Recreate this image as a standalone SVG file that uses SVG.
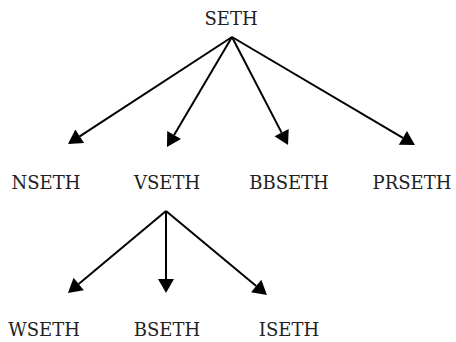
<svg xmlns="http://www.w3.org/2000/svg" width="456" height="342" viewBox="0 0 456 342">
<style>
text{font-family:'DejaVu Serif',serif;font-size:18px;fill:#222;text-anchor:middle}
.e{stroke:#000;stroke-width:2;fill:none;marker-end:url(#ah)}
</style>
<defs>
<marker id="ah" markerUnits="userSpaceOnUse" markerWidth="14" markerHeight="16" refX="0" refY="8" orient="auto" overflow="visible">
<path d="M0,0 L14,8 L0,16 z" fill="#000"/>
</marker>
</defs>
<rect width="456" height="342" fill="#fff"/>
<g id="connectors">
<line class="e" x1="232" y1="37" x2="79.7" y2="136.3"/>
<line class="e" x1="232" y1="37" x2="174.1" y2="135"/>
<line class="e" x1="232" y1="37" x2="281.6" y2="132.6"/>
<line class="e" x1="232" y1="37" x2="402.9" y2="137.9"/>
<line class="e" x1="166" y1="211" x2="78.7" y2="284"/>
<line class="e" x1="166" y1="211" x2="166" y2="279"/>
<line class="e" x1="166" y1="211" x2="256.2" y2="286"/>
</g>
<g id="SETH"><text x="231" y="25">SETH</text></g>
<g id="NSETH"><text x="46" y="189">NSETH</text></g>
<g id="VSETH"><text x="167" y="189">VSETH</text></g>
<g id="BBSETH"><text x="289" y="189">BBSETH</text></g>
<g id="PRSETH"><text x="412" y="189">PRSETH</text></g>
<g id="WSETH"><text x="44" y="336">WSETH</text></g>
<g id="BSETH"><text x="167" y="336">BSETH</text></g>
<g id="ISETH"><text x="289" y="336">ISETH</text></g>
</svg>
